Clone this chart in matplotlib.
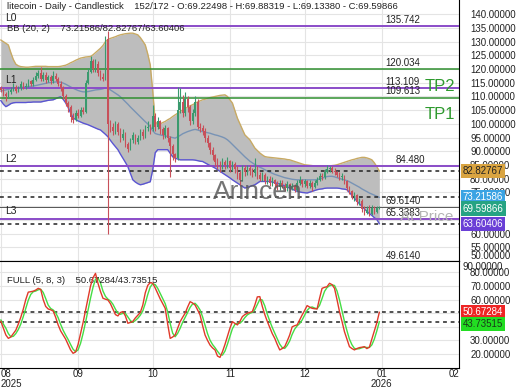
import matplotlib
matplotlib.use('Agg')
import matplotlib.pyplot as plt
import matplotlib.dates as mdates
import matplotlib.transforms as mtransforms
import pandas as pd

plt.rcParams['font.family'] = ['Liberation Sans', 'DejaVu Sans']

# daily candles, Aug 1 2025 .. Dec 31 2025
dates = pd.date_range('2025-08-01', periods=153, freq='D')
first_open = 113.0
closes = [112.5, 111.0, 110.0, 111.5, 112.5, 113.5, 112.0, 113.0, 114.5, 113.5,
          114.0, 115.5, 114.5, 116.0, 117.5, 118.5, 116.5, 118.0, 116.0, 117.0,
          115.5, 117.5, 116.5, 114.5, 113.0, 110.0, 107.5, 106.0, 102.5, 101.5,
          104.0, 103.0, 105.0, 104.5, 115.0, 119.0, 123.0, 120.0, 122.0, 118.5,
          117.0, 116.5, 131.0, 100.0, 99.0, 97.5, 100.0, 97.0, 95.0, 96.5,
          92.5, 91.0, 94.0, 96.0, 93.5, 95.0, 97.0, 95.5, 98.5, 99.0,
          98.0, 103.0, 99.0, 101.0, 98.0, 96.0, 98.5, 95.0, 92.0, 89.0,
          87.5, 105.0, 108.0, 104.0, 109.0, 106.0, 101.0, 104.0, 108.0, 99.0,
          98.5, 97.5, 95.0, 93.0, 90.5, 88.5, 86.0, 85.0, 84.5, 86.0,
          85.0, 86.5, 84.0, 85.5, 83.5, 82.0, 79.5, 84.0, 82.5, 84.0,
          83.0, 82.0, 83.5, 81.5, 80.0, 81.5, 79.0, 80.0, 78.5, 79.5,
          78.0, 77.0, 78.5, 77.5, 76.5, 78.0, 76.5, 77.5, 76.0, 78.5,
          79.5, 78.0, 79.0, 77.5, 78.5, 77.0, 78.5, 79.5, 81.0, 80.5,
          82.5, 83.5, 84.0, 83.0, 82.5, 81.5, 80.5, 81.0, 79.0, 76.5,
          75.5, 73.5, 74.0, 71.5, 72.0, 69.0, 67.5, 68.5, 67.0, 69.5,
          68.0, 69.22498, 69.59866]
highs = [114.0, 113.0, 111.8, 112.5, 113.5, 114.8, 114.2, 114.0, 115.5, 115.2,
         115.0, 116.5, 116.2, 117.0, 119.0, 119.5, 120.8, 119.0, 118.8, 118.0,
         117.8, 119.2, 118.5, 117.2, 115.5, 113.8, 111.0, 108.5, 106.8, 103.8,
         105.0, 105.5, 106.0, 106.0, 116.0, 120.5, 124.6, 123.8, 123.5, 122.8,
         119.5, 118.5, 132.0, 133.8, 101.5, 100.5, 101.0, 100.8, 98.5, 98.0,
         97.0, 93.5, 95.0, 97.2, 96.5, 96.0, 98.0, 98.0, 99.5, 101.0,
         100.0, 107.0, 104.0, 102.5, 101.5, 99.0, 99.5, 99.0, 95.5, 92.5,
         89.5, 113.6, 113.0, 110.5, 111.5, 110.0, 107.0, 105.5, 110.0, 109.0,
         100.5, 99.5, 98.5, 96.0, 93.5, 91.5, 89.0, 87.5, 86.5, 87.5,
         87.0, 88.0, 87.0, 86.5, 86.0, 84.5, 83.0, 85.0, 85.0, 85.0,
         85.0, 84.0, 87.5, 84.5, 82.5, 82.5, 82.0, 81.0, 81.0, 80.5,
         80.0, 79.0, 79.5, 79.5, 78.5, 79.0, 78.5, 78.5, 78.0, 79.5,
         81.0, 80.0, 80.0, 79.5, 79.5, 79.0, 79.5, 80.5, 82.0, 82.0,
         83.5, 84.9, 84.8, 84.5, 84.0, 83.0, 82.5, 82.0, 81.5, 79.5,
         77.5, 76.0, 75.0, 74.5, 73.0, 72.5, 70.0, 70.0, 70.5, 70.5,
         70.0, 70.0, 69.88319]
lows = [111.5, 110.0, 108.3, 109.5, 110.8, 112.0, 111.2, 111.5, 112.5, 112.8,
        112.8, 113.5, 113.8, 114.0, 115.5, 116.8, 115.8, 115.5, 115.0, 115.2,
        114.5, 115.0, 115.5, 113.8, 112.0, 109.0, 106.5, 104.5, 100.8, 100.5,
        101.0, 102.0, 102.5, 103.5, 104.0, 114.5, 118.5, 118.8, 119.0, 117.5,
        116.0, 115.8, 116.0, 59.8, 97.0, 96.0, 96.5, 95.8, 93.5, 94.0,
        91.5, 89.8, 90.5, 93.0, 92.5, 92.8, 94.0, 94.5, 95.0, 97.5,
        96.5, 97.5, 97.5, 98.0, 96.5, 94.5, 95.0, 93.5, 80.5, 87.0,
        86.0, 87.0, 104.0, 102.5, 103.0, 104.5, 99.5, 100.0, 103.0, 98.0,
        97.0, 96.0, 93.5, 91.5, 89.0, 87.0, 84.5, 83.5, 82.5, 83.5,
        83.5, 84.0, 82.5, 83.0, 82.0, 80.0, 77.2, 79.0, 81.0, 81.5,
        81.5, 80.5, 81.0, 80.0, 79.0, 79.0, 78.0, 78.0, 77.5, 77.5,
        76.8, 76.0, 76.0, 76.5, 75.4, 75.5, 75.5, 75.8, 75.0, 75.5,
        77.8, 77.0, 77.0, 76.5, 76.8, 75.5, 76.5, 77.8, 79.0, 79.5,
        80.0, 82.0, 82.5, 82.0, 81.5, 80.5, 79.5, 79.5, 78.0, 75.4,
        74.5, 72.5, 72.0, 70.5, 70.5, 68.0, 66.9, 67.0, 66.5, 66.9,
        67.0, 67.5, 69.13380]
opens = [first_open] + closes[:-1]

# Bollinger (20, 2)
bb_upper = [130.6, 130.0, 129.4, 128.8, 126.0, 123.5, 121.8, 121.2, 120.9, 120.8,
            120.7, 120.7, 120.8, 120.9, 121.0, 121.0, 121.0, 121.0, 121.0, 120.9,
            120.9, 120.9, 120.9, 120.9, 121.0, 121.2, 121.4, 121.8, 122.3, 122.7,
            123.2, 123.6, 124.0, 124.2, 124.4, 124.5, 124.6, 125.2, 126.0, 126.8,
            127.6, 128.6, 130.0, 130.8, 131.2, 131.5, 131.8, 132.2, 132.5, 132.7,
            132.9, 133.0, 133.1, 133.1, 132.8, 132.5, 131.5, 130.2, 128.8, 125.5,
            121.5, 111.8, 100.9, 99.7, 100.0, 100.5, 100.9, 101.5, 102.0, 102.7,
            103.3, 103.9, 104.5, 105.1, 105.6, 106.1, 106.6, 107.0, 107.5, 108.0,
            108.4, 108.8, 109.0, 109.3, 109.6, 109.8, 110.0, 110.2, 110.4, 110.5,
            110.6, 110.0, 108.8, 107.6, 104.8, 102.1, 100.0, 98.0, 96.0, 95.1,
            94.2, 92.7, 91.2, 90.3, 89.4, 88.7, 88.1, 87.9, 87.8, 87.7,
            87.6, 87.5, 87.4, 87.3, 87.2, 87.0, 86.9, 86.6, 86.3, 86.0,
            85.7, 85.4, 85.1, 85.0, 84.9, 84.8, 84.6, 84.5, 84.5, 84.5,
            84.5, 84.5, 84.6, 84.8, 84.9, 85.1, 85.4, 85.7, 86.0, 86.3,
            86.6, 86.9, 87.1, 87.4, 87.6, 87.8, 87.8, 87.6, 87.3, 86.9,
            85.8, 84.4, 82.82767]
bb_mid = [112.0, 112.2, 112.4, 112.6, 112.8, 113.0, 113.1, 113.2, 113.3, 113.4,
          113.5, 113.6, 113.7, 113.8, 114.0, 114.2, 114.4, 114.6, 114.8, 115.0,
          115.1, 115.2, 115.3, 115.3, 115.2, 114.9, 114.5, 114.0, 113.5, 113.0,
          112.6, 112.2, 111.9, 111.7, 111.7, 111.8, 112.0, 112.2, 112.4, 112.5,
          112.6, 112.8, 113.2, 113.0, 112.4, 111.8, 111.2, 110.6, 109.9, 109.0,
          108.1, 107.2, 106.2, 105.3, 104.4, 103.5, 102.6, 101.7, 100.8, 100.0,
          99.0, 97.5, 96.5, 96.2, 96.0, 95.8, 95.6, 95.4, 95.2, 95.0,
          94.8, 95.3, 95.8, 96.4, 96.8, 97.2, 97.5, 97.8, 98.0, 97.8,
          97.5, 97.2, 97.0, 96.8, 96.6, 96.3, 96.0, 95.8, 95.5, 95.2,
          94.8, 94.2, 93.4, 92.5, 91.6, 90.7, 89.8, 88.9, 88.0, 87.2,
          86.4, 85.8, 85.2, 84.7, 84.2, 83.8, 83.3, 82.8, 82.4, 82.0,
          81.6, 81.3, 81.0, 80.7, 80.4, 80.2, 80.0, 79.8, 79.7, 79.6,
          79.6, 79.6, 79.6, 79.6, 79.6, 79.6, 79.6, 79.7, 79.9, 80.2,
          80.5, 80.8, 80.9, 80.9, 80.7, 80.4, 80.1, 79.8, 79.6, 79.3,
          78.9, 78.4, 77.9, 77.4, 76.9, 76.3, 75.8, 75.3, 74.8, 74.4,
          74.0, 73.6, 73.21586]
bb_lower = [108.5, 107.2, 106.3, 106.8, 107.4, 107.7, 107.8, 107.8, 107.8, 107.8,
            107.8, 107.9, 107.9, 108.0, 108.0, 108.0, 108.0, 108.2, 108.4, 108.6,
            108.7, 108.8, 109.2, 109.6, 109.9, 109.0, 107.7, 106.0, 104.0, 102.2,
            101.6, 101.1, 100.7, 100.3, 100.0, 99.7, 99.3, 98.9, 98.5, 98.1,
            97.8, 97.0, 96.2, 95.3, 94.0, 92.8, 91.7, 90.6, 89.0, 87.5,
            86.0, 84.4, 82.0, 79.6, 78.8, 78.2, 77.8, 78.0, 78.3, 78.6,
            78.9, 83.3, 89.5, 90.6, 90.6, 90.6, 90.6, 90.6, 89.3, 88.0,
            87.5, 87.2, 86.9, 86.9, 86.9, 86.9, 86.9, 86.9, 86.8, 86.6,
            86.4, 86.3, 85.8, 85.3, 84.8, 84.4, 83.9, 83.3, 82.7, 82.1,
            81.5, 80.9, 80.3, 79.6, 79.0, 78.4, 77.8, 77.2, 76.6, 76.9,
            77.2, 77.5, 77.8, 78.4, 79.0, 79.0, 79.0, 79.0, 79.0, 78.8,
            78.5, 78.3, 78.0, 77.8, 77.4, 77.0, 76.6, 76.2, 75.8, 75.4,
            75.2, 75.0, 74.9, 74.8, 75.1, 75.4, 75.7, 76.0, 76.2, 76.3,
            76.5, 76.6, 76.6, 76.6, 76.6, 76.6, 76.5, 76.3, 76.2, 76.0,
            75.0, 73.9, 72.9, 71.8, 70.9, 69.9, 69.0, 68.1, 67.3, 66.6,
            65.8, 65.1, 63.60406]

# Full stochastic (5, 8, 3)
stoch_k = [44, 39, 34, 31.5, 32.5, 35, 37.5, 42, 47, 53,
           60, 65.5, 65.8, 66.2, 67, 68.3, 67.5, 60, 55, 53.1,
           52.5, 51.6, 47, 41.4, 37, 34, 31, 27, 23, 20.5,
           21.5, 27, 35, 43, 52, 61, 70, 76, 79.3, 72,
           66, 61, 60.3, 59.7, 57, 53, 49, 48, 50.5, 51.2,
           48, 42.6, 43.2, 44, 46.5, 48.5, 50.5, 56, 65, 70.5,
           72.5, 72, 68.5, 64.5, 60.5, 57, 53.6, 42, 31.5, 32.5,
           34, 39, 43.8, 47, 50, 54.5, 58.5, 57.5, 56, 52.5,
           48.7, 41, 34, 30, 26.6, 24.5, 23, 18.5, 17.5, 21.7,
           27, 33, 39, 43.8, 42.5, 41.4, 44, 47.5, 49, 50,
           50.6, 51.2, 56, 62, 62.2, 55, 49, 44, 39.5, 35,
           31.5, 27, 23, 24, 25.4, 29.5, 34, 40, 40.8, 41.4,
           45, 48.7, 52, 55.6, 54.5, 53.6, 53.3, 53.1, 61, 68.3,
           69, 69.5, 72, 71, 68.3, 60, 51.2, 44, 36.4, 31,
           25.4, 24, 23, 24, 24.7, 25, 25.4, 24, 25, 31,
           37, 43, 50.67284]
stoch_d = [45, 42, 39, 35, 32.7, 33, 35, 38, 42, 47.5,
           53.5, 59.5, 63.8, 65.8, 66.3, 67.2, 67.6, 65.3, 60.8, 56,
           53.5, 52.4, 50.4, 46.7, 41.8, 37.5, 34, 30.7, 27, 23.5,
           21.7, 23, 27.8, 35, 43.3, 52, 61, 69, 75.1, 75.8,
           72.4, 66.3, 62.4, 60.3, 59, 56.6, 53, 50, 49.2, 49.9,
           49.9, 47.3, 44.6, 43.3, 44.6, 46.3, 48.5, 51.7, 57.2, 63.8,
           69.3, 71.7, 71, 68.3, 64.5, 60.7, 57, 50.9, 42.4, 35.3,
           32.7, 35.2, 38.9, 43.3, 46.9, 50.5, 54.3, 56.8, 57.3, 55.3,
           52.4, 47.4, 41.2, 35, 30.2, 27, 24.7, 22, 19.7, 19.2,
           22.1, 27.2, 33, 38.6, 41.8, 42.6, 42.6, 44.3, 46.8, 48.8,
           49.9, 50.6, 52.6, 56.4, 60.1, 59.7, 55.4, 49.3, 44.2, 39.5,
           35.3, 31.2, 27.2, 24.7, 24.1, 26.3, 29.6, 34.5, 38.3, 40.7,
           42.4, 45, 48.6, 52.1, 54, 54.6, 53.8, 53.3, 55.8, 60.8,
           66.1, 68.9, 70.2, 70.8, 70.4, 66.4, 59.8, 51.7, 43.9, 37.1,
           30.9, 26.8, 24.1, 23.7, 23.9, 24.6, 25, 24.8, 24.8, 26.7,
           31, 37, 43.73515]

# horizontal levels
purple_levels = [135.742, 113.109, 84.480, 65.3383]
purple_names = ['L0', 'L1', 'L2', 'L3']
green_levels = [120.034, 109.613]
gray_levels = [69.6140, 49.6140]
level_labels = ['135.742', '120.034', '113.109', '109.613', '84.480', '69.6140', '65.3383', '49.6140']
level_values = [135.742, 120.034, 113.109, 109.613, 84.480, 69.6140, 65.3383, 49.6140]
bb_last = [73.21586, 82.82767, 63.60406]
last_close = 69.59866
stoch_last = [50.67284, 43.73515]
price_ticks = [50, 55, 60, 75, 80, 85, 90, 95, 100, 105, 110, 115, 120, 125, 130, 135, 140]
stoch_ticks = [20, 30, 60, 70, 80]
month_ticks = pd.date_range('2025-08-01', '2026-02-01', freq='MS')
month_labels = ['08\n2025', '09', '10', '11', '12', '01\n2026', '02']

x = mdates.date2num(dates)

fig = plt.figure(figsize=(5.2, 3.9), dpi=100)
ax = fig.add_axes([0, 0.3308, 0.8827, 0.6692])
ax2 = fig.add_axes([0, 0.0564, 0.8827, 0.2744], sharex=ax)

x0 = mdates.date2num(pd.Timestamp('2025-08-01')) - 0.35
x1 = mdates.date2num(pd.Timestamp('2026-02-01'))
ax.set_xlim(x0, x1)
ax.set_ylim(50.13, 145.2)
ax2.set_ylim(9.7, 88.4)

for a in (ax, ax2):
    a.set_facecolor('white')
    a.spines['left'].set_visible(False)
    for s in ('right', 'bottom', 'top'):
        a.spines[s].set_color('black')
    a.yaxis.tick_right()
    a.tick_params(axis='y', length=0, pad=8, labelsize=7, labelcolor='#222222')
    a.set_xticks(mdates.date2num(month_ticks))
    a.grid(True, color='#e4e4e4', linewidth=0.8)
    a.set_axisbelow(True)
ax.spines['top'].set_visible(False)

# price panel
ax.set_yticks(list(range(50, 145, 5)))
ax.set_yticklabels(['{:.5f}'.format(v) if v in price_ticks else '' for v in range(50, 145, 5)])
ax.get_yticklabels()[0].set_verticalalignment('bottom')
ax.tick_params(axis='x', length=0, labelbottom=False)

ax.fill_between(x, bb_lower, bb_upper, color='#bdbdbd', zorder=1, linewidth=0)
ax.plot(x, bb_upper, color='#c8aa64', linewidth=1.0, zorder=2)
ax.plot(x, bb_mid, color='#7893b5', linewidth=1.0, zorder=2)
ax.plot(x, bb_lower, color='#5a55d2', linewidth=1.0, zorder=2)

for lv in purple_levels:
    ax.axhline(lv, color='#8a4cc8', linewidth=1.4, zorder=3)
for lv in green_levels:
    ax.axhline(lv, color='#2f8f2f', linewidth=1.1, zorder=3)
for lv in gray_levels:
    ax.axhline(lv, color='#555555', linewidth=0.7, zorder=3)
for lv in bb_last:
    ax.axhline(lv, color='#222222', linewidth=1.1, linestyle=(0, (2.5, 2.5)), zorder=3)

for xi, o, h, l, c in zip(x, opens, highs, lows, closes):
    col = '#3a9a6e' if c >= o else '#c8505a'
    ax.vlines(xi, l, h, color=col, linewidth=0.8, zorder=4)
    ax.bar(xi, max(abs(c - o), 0.15), bottom=min(o, c), width=0.6, color=col, linewidth=0, zorder=4)

ytrans = mtransforms.blended_transform_factory(ax.transAxes, ax.transData)
for name, lv in zip(purple_names, purple_levels):
    ax.text(0.012, lv + 1.0, name, transform=ytrans, fontsize=7.5, color='#222222', va='bottom', zorder=6)
for lbl, lv in zip(level_labels, level_values):
    xpos = 0.862 if lbl == '84.480' else 0.84
    ax.text(xpos, lv + 0.4, lbl, transform=ytrans, fontsize=7, color='#222222', va='bottom', zorder=6)
ax.text(0.925, 113.6, 'TP2', transform=ytrans, fontsize=12, color='#2f9a2f', va='center', zorder=6)
ax.text(0.925, 103.4, 'TP1', transform=ytrans, fontsize=12, color='#2f9a2f', va='center', zorder=6)
ax.text(0.872, 65.9, 'At Price', transform=ytrans, fontsize=11, color='#b4b4b4', va='center', zorder=7)
ax.text(0.465, 75.3, 'Arincen', transform=ytrans, fontsize=19, color='#5c5c5c', alpha=0.85, va='center', zorder=6)

ax.text(0.016, 0.975, 'litecoin - Daily - Candlestick    152/172 - O:69.22498 - H:69.88319 - L:69.13380 - C:69.59866',
        transform=ax.transAxes, fontsize=6.8, color='#222222', va='center', zorder=7)
ax.text(0.016, 0.89, 'BB (20, 2)    73.21586/82.82767/63.60406',
        transform=ax.transAxes, fontsize=6.8, color='#222222', va='center', zorder=7)

boxes = [(bb_last[1], '#d9a441', '#222222'), (bb_last[0], '#3aa3e3', 'white'),
         (last_close, '#26a383', 'white'), (bb_last[2], '#6a3fd6', 'white')]
box_y = [bb_last[1], bb_last[0], last_close - 0.5, bb_last[2]]
for (val, fc, tc), yy in zip(boxes, box_y):
    ax.text(1.008, yy, '{:.5f}'.format(val), transform=ytrans, fontsize=7, color=tc, va='center',
            ha='left', zorder=8, clip_on=False,
            bbox=dict(boxstyle='square,pad=0.22', fc=fc, ec='none'))

# stochastic panel
ax2.set_yticks(list(range(20, 90, 10)))
ax2.set_yticklabels(['{:.5f}'.format(v) if v in stoch_ticks else '' for v in range(20, 90, 10)])
ax2.plot(x, stoch_d, color='#44dd44', linewidth=1.0, zorder=3)
ax2.plot(x, stoch_k, color='#e03a2a', linewidth=1.0, zorder=4)
for lv in stoch_last:
    ax2.axhline(lv, color='#222222', linewidth=1.1, linestyle=(0, (2.5, 2.5)), zorder=2)
ytrans2 = mtransforms.blended_transform_factory(ax2.transAxes, ax2.transData)
ax2.text(1.008, 0.99, '90.00000', transform=ax2.transAxes, fontsize=7, color='#222222',
         va='top', ha='left', clip_on=False)
ax2.text(1.008, stoch_last[0], '{:.5f}'.format(stoch_last[0]), transform=ytrans2, fontsize=7, color='white',
         va='center', ha='left', clip_on=False, bbox=dict(boxstyle='square,pad=0.22', fc='#ee2424', ec='none'))
ax2.text(1.008, stoch_last[1] - 1.5, '{:.5f}'.format(stoch_last[1]), transform=ytrans2, fontsize=7, color='#1a3a1a',
         va='center', ha='left', clip_on=False, bbox=dict(boxstyle='square,pad=0.22', fc='#22dd22', ec='none'))
ax2.text(0.016, 0.82, 'FULL (5, 8, 3)    50.67284/43.73515', transform=ax2.transAxes,
         fontsize=6.8, color='#222222', va='center')

ax2.set_xticklabels(month_labels, linespacing=0.95)
ax2.tick_params(axis='x', length=0, pad=1, labelsize=7, labelcolor='#222222')
tl = ax2.get_xticklabels()
tl[0].set_horizontalalignment('left')
tl[-1].set_horizontalalignment('right')

fig.savefig('out.png', dpi=100)
